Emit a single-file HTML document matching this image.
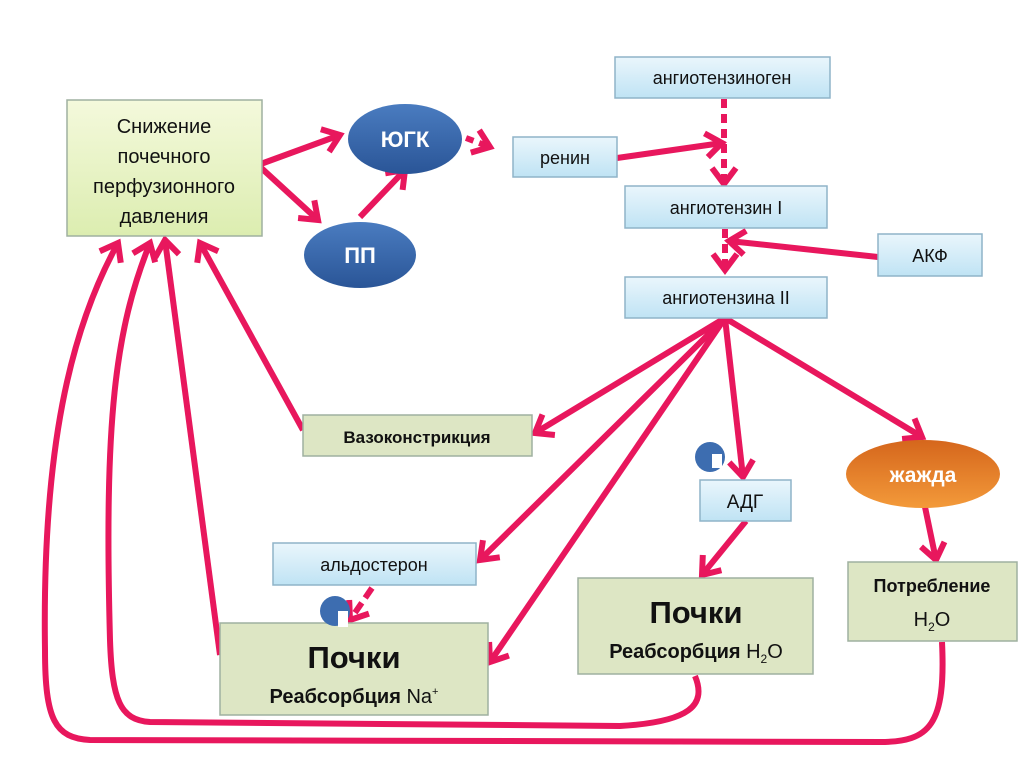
<!DOCTYPE html>
<html><head><meta charset="utf-8"><style>
html,body{margin:0;padding:0;background:#fff;}
svg{display:block;}
text{font-family:"Liberation Sans","DejaVu Sans",sans-serif;}
</style></head><body>
<svg width="1024" height="768" viewBox="0 0 1024 768" xmlns="http://www.w3.org/2000/svg">
<defs>
<linearGradient id="gg" x1="0" y1="0" x2="0" y2="1"><stop offset="0" stop-color="#f4f9dc"/><stop offset="1" stop-color="#dcedb0"/></linearGradient>
<linearGradient id="bg" x1="0" y1="0" x2="0" y2="1"><stop offset="0" stop-color="#eaf6fc"/><stop offset="1" stop-color="#bfe3f4"/></linearGradient>
<linearGradient id="eb" x1="0" y1="0" x2="0" y2="1"><stop offset="0" stop-color="#4a7cc0"/><stop offset="1" stop-color="#2a5597"/></linearGradient>
<linearGradient id="eo" x1="0" y1="0" x2="0" y2="1"><stop offset="0" stop-color="#d5661c"/><stop offset="1" stop-color="#f39a3a"/></linearGradient>
<marker id="ah" markerUnits="userSpaceOnUse" markerWidth="40" markerHeight="40" refX="20" refY="20" orient="auto">
<path d="M4,8 L20,20 L4,32" fill="none" stroke="#e8175d" stroke-width="6"/>
</marker>
</defs>

<g fill="none" stroke="#e8175d" stroke-width="6" stroke-linecap="butt">
<path d="M258,165 L340,135" marker-end="url(#ah)"/>
<path d="M258,165 L318,220" marker-end="url(#ah)"/>
<path d="M360,217 L405,170" marker-end="url(#ah)"/>
<path d="M466,138 L490,147" stroke-dasharray="8,6" marker-end="url(#ah)"/>
<path d="M617,158 L722,143" marker-end="url(#ah)"/>
<path d="M724,99 L724,184" stroke-dasharray="9,6" marker-end="url(#ah)"/>
<path d="M725,229 L725,270" stroke-dasharray="9,6" marker-end="url(#ah)"/>
<path d="M878,257 L729,241" marker-end="url(#ah)"/>
<path d="M725,318 L535,433" marker-end="url(#ah)"/>
<path d="M725,318 L480,560" marker-end="url(#ah)"/>
<path d="M725,318 L490,662" marker-end="url(#ah)"/>
<path d="M725,318 L743,477" marker-end="url(#ah)"/>
<path d="M725,318 L922,437" marker-end="url(#ah)"/>
<path d="M746,521 L702,575" marker-end="url(#ah)"/>
<path d="M372,588 L350,620" stroke-dasharray="12,6" marker-end="url(#ah)"/>
<path d="M925,507 L936,560" marker-end="url(#ah)"/>
<path d="M303,430 L200,243" marker-end="url(#ah)"/>
<path d="M220,655 L165,240" marker-end="url(#ah)"/>
<path d="M695,676 C707,705 690,722 620,726 L150,722 C120,720 112,700 110,640 C104,420 115,330 150,243" marker-end="url(#ah)"/>
<path d="M942,642 C946,725 930,742 880,742 L90,740 C55,738 45,720 45,650 C42,450 70,330 118,243" marker-end="url(#ah)"/>
</g>

<g stroke="#9fb0a0" stroke-width="1.5">
<rect x="67" y="100" width="195" height="136" fill="url(#gg)"/>
<rect x="513" y="137" width="104" height="40" fill="url(#bg)" stroke="#8fb4c8"/>
<rect x="615" y="57" width="215" height="41" fill="url(#bg)" stroke="#8fb4c8"/>
<rect x="625" y="186" width="202" height="42" fill="url(#bg)" stroke="#8fb4c8"/>
<rect x="878" y="234" width="104" height="42" fill="url(#bg)" stroke="#8fb4c8"/>
<rect x="625" y="277" width="202" height="41" fill="url(#bg)" stroke="#8fb4c8"/>
<rect x="303" y="415" width="229" height="41" fill="#dde6c4"/>
<rect x="700" y="480" width="91" height="41" fill="url(#bg)" stroke="#8fb4c8"/>
<rect x="273" y="543" width="203" height="42" fill="url(#bg)" stroke="#8fb4c8"/>
<rect x="220" y="623" width="268" height="92" fill="#dde6c4"/>
<rect x="578" y="578" width="235" height="96" fill="#dde6c4"/>
<rect x="848" y="562" width="169" height="79" fill="#dde6c4"/>
</g>
<ellipse cx="405" cy="139" rx="57" ry="35" fill="url(#eb)"/>
<ellipse cx="360" cy="255" rx="56" ry="33" fill="url(#eb)"/>
<ellipse cx="923" cy="474" rx="77" ry="34" fill="url(#eo)"/>
<circle cx="710" cy="457" r="15" fill="#3d6db0"/>
<rect x="712" y="454" width="10" height="14" fill="#fff"/>
<circle cx="335" cy="611" r="15" fill="#3d6db0"/>
<rect x="338" y="611" width="10" height="16" fill="#fff"/>

<g fill="#111" font-size="20" text-anchor="middle">
<text x="164" y="133">Снижение</text>
<text x="164" y="163">почечного</text>
<text x="164" y="193">перфузионного</text>
<text x="164" y="223">давления</text>
<text x="565" y="164" font-size="18">ренин</text>
<text x="722" y="84" font-size="18">ангиотензиноген</text>
<text x="726" y="214" font-size="18">ангиотензин I</text>
<text x="930" y="262" font-size="18">АКФ</text>
<text x="726" y="304" font-size="18">ангиотензина II</text>
<text x="417" y="443" font-size="17" font-weight="bold">Вазоконстрикция</text>
<text x="745" y="508" font-size="19">АДГ</text>
<text x="374" y="571" font-size="18">альдостерон</text>
<text x="354" y="668" font-size="31" font-weight="bold">Почки</text>
<text x="354" y="703" font-size="20"><tspan font-weight="bold">Реабсорбция</tspan> Na<tspan font-size="11" dy="-8">+</tspan></text>
<text x="696" y="623" font-size="31" font-weight="bold">Почки</text>
<text x="696" y="658" font-size="20"><tspan font-weight="bold">Реабсорбция</tspan> H<tspan font-size="12" dy="5">2</tspan><tspan dy="-5">O</tspan></text>
<text x="932" y="592" font-size="18" font-weight="bold">Потребление</text>
<text x="932" y="626" font-size="20">H<tspan font-size="12" dy="5">2</tspan><tspan dy="-5">O</tspan></text>
<text x="405" y="147" font-size="22" font-weight="bold" fill="#fff">ЮГК</text>
<text x="360" y="263" font-size="22" font-weight="bold" fill="#fff">ПП</text>
<text x="923" y="482" font-size="21" font-weight="bold" fill="#fff">жажда</text>
</g>
</svg>
</body></html>
